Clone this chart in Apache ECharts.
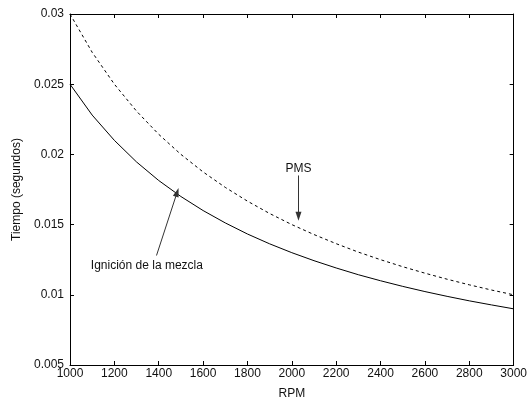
<!DOCTYPE html>
<html><head><meta charset="utf-8">
<script src="https://cdn.jsdelivr.net/npm/echarts@6/dist/echarts.min.js"></script>
<style>html,body{margin:0;padding:0;background:#fff}#c{width:530px;height:405px}</style>
</head><body><div id="c"></div>
<script>
const rpm = [1000,1100,1200,1300,1400,1500,1600,1700,1800,1900,2000,2100,2200,2300,2400,2500,2600,2700,2800,2900,3000];
const ignicion = [0.0250,0.0228,0.0210,0.01946,0.01814,0.0170,0.0160,0.01512,0.01433,0.01363,0.0130,0.01243,0.01191,0.01143,0.0110,0.0106,0.01023,0.00989,0.00957,0.00928,0.0090];
const pms = [0.0300,0.02727,0.0250,0.02308,0.02143,0.0200,0.01875,0.01765,0.01667,0.01579,0.0150,0.01429,0.01364,0.01304,0.0125,0.0120,0.01154,0.01111,0.01071,0.01034,0.0100];
const xLabel = 'RPM';
const yLabel = 'Tiempo (segundos)';
const pmsText = 'PMS';
const ignText = 'Ignición de la mezcla';

// annotation placement (data coordinates)
const pmsArrow = [[2030, 0.0185], [2030, 0.0156]];
const pmsTextPos = [2030, 0.0190];
const ignArrow = [[1390, 0.0128], [1483, 0.0173]];
const ignTextPos = [1094, 0.01206];

const FONT = 'Liberation Sans, Arial, sans-serif';
const TXT = '#111';
const chart = echarts.init(document.getElementById('c'));
const axisCommon = {
  axisLine: {show: true, lineStyle: {color: '#000', width: 1}},
  axisTick: {show: true, inside: true, length: 4, lineStyle: {color: '#000'}},
  splitLine: {show: false}
};
const fmtY = v => String(parseFloat(v.toFixed(3)));
const fmtX = v => String(Math.round(v));
chart.setOption({
  animation: false,
  grid: {left: 70, right: 12, top: 14, bottom: 37},
  xAxis: [
    Object.assign({type: 'value', min: 1000, max: 3000, interval: 200, position: 'bottom',
      name: xLabel, nameLocation: 'middle', nameGap: 23,
      nameTextStyle: {fontFamily: FONT, fontSize: 12, color: TXT},
      axisLabel: {fontFamily: FONT, fontSize: 12, color: TXT, margin: 3, formatter: fmtX}}, axisCommon),
    Object.assign({type: 'value', min: 1000, max: 3000, interval: 200, position: 'top',
      axisLabel: {show: false}}, axisCommon)
  ],
  yAxis: [
    Object.assign({type: 'value', min: 0.005, max: 0.03, interval: 0.005, position: 'left',
      name: yLabel, nameLocation: 'middle', nameGap: 46,
      nameTextStyle: {fontFamily: FONT, fontSize: 12, color: TXT},
      axisLabel: {fontFamily: FONT, fontSize: 12, color: TXT, margin: 6, formatter: fmtY}}, axisCommon),
    Object.assign({type: 'value', min: 0.005, max: 0.03, interval: 0.005, position: 'right',
      axisLabel: {show: false}}, axisCommon)
  ],
  series: [
    {
      type: 'line', name: 'PMS', data: rpm.map((r, i) => [r, pms[i]]),
      showSymbol: false, symbol: 'none',
      lineStyle: {color: '#000', width: 1, type: [3, 3]},
      markLine: {
        silent: true, symbol: ['none', 'triangle'], symbolSize: [6, 9],
        lineStyle: {color: '#333', width: 1, type: 'solid'},
        label: {show: false},
        data: [[{coord: pmsArrow[0]}, {coord: pmsArrow[1]}]]
      },
      markPoint: {
        silent: true, symbol: 'circle', symbolSize: 1, itemStyle: {color: 'rgba(0,0,0,0)'},
        label: {show: true, position: 'inside', formatter: pmsText, fontFamily: FONT, fontSize: 12, color: TXT},
        data: [{coord: pmsTextPos}]
      }
    },
    {
      type: 'line', name: 'Ignición', data: rpm.map((r, i) => [r, ignicion[i]]),
      showSymbol: false, symbol: 'none',
      lineStyle: {color: '#000', width: 1},
      markLine: {
        silent: true, symbol: ['none', 'triangle'], symbolSize: [6, 9],
        lineStyle: {color: '#333', width: 1, type: 'solid'},
        label: {show: false},
        data: [[{coord: ignArrow[0]}, {coord: ignArrow[1]}]]
      },
      markPoint: {
        silent: true, symbol: 'circle', symbolSize: 1, itemStyle: {color: 'rgba(0,0,0,0)'},
        label: {show: true, position: 'inside', align: 'left', formatter: ignText, fontFamily: FONT, fontSize: 12, color: TXT},
        data: [{coord: ignTextPos}]
      }
    }
  ]
});
</script></body></html>
